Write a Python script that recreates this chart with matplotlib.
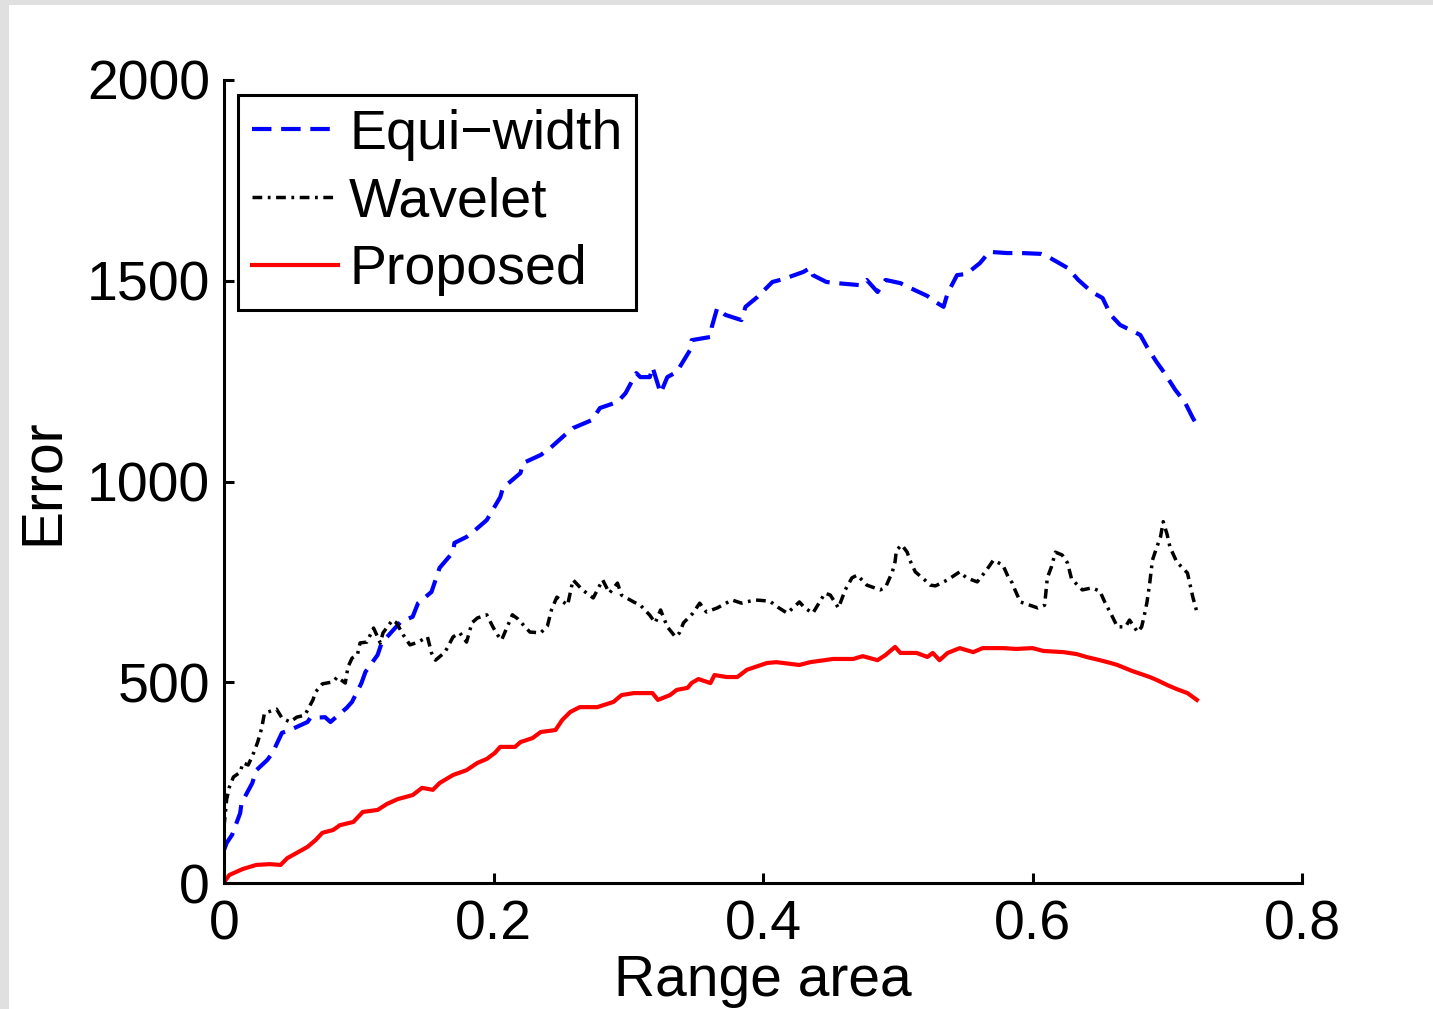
import matplotlib
matplotlib.use("Agg")
import matplotlib.pyplot as plt
from matplotlib.patches import Rectangle

plt.rcParams['font.family'] = ['Liberation Sans', 'DejaVu Sans']
plt.rcParams['lines.scale_dashes'] = False

# ---- data ----
equi_x = [0.000, 0.002, 0.006, 0.012, 0.013, 0.021, 0.024, 0.032, 0.036, 0.043, 0.049, 0.062, 0.064,
          0.075, 0.079, 0.091, 0.095, 0.102, 0.105, 0.114, 0.117, 0.131, 0.140, 0.144, 0.154, 0.160,
          0.170, 0.171, 0.180, 0.184, 0.195, 0.205, 0.207, 0.220, 0.222, 0.235, 0.242, 0.253, 0.259,
          0.273, 0.279, 0.292, 0.298, 0.306, 0.309, 0.316, 0.318, 0.324, 0.329, 0.336, 0.346, 0.347,
          0.361, 0.362, 0.366, 0.372, 0.384, 0.387, 0.396, 0.407, 0.415, 0.430, 0.435, 0.437, 0.447,
          0.455, 0.472, 0.477, 0.485, 0.491, 0.502, 0.508, 0.522, 0.529, 0.534, 0.537, 0.544, 0.551,
          0.561, 0.568, 0.581, 0.592, 0.606, 0.613, 0.626, 0.634, 0.644, 0.652, 0.658, 0.665, 0.680,
          0.685, 0.692, 0.698, 0.706, 0.713, 0.719, 0.723]
equi_y = [82, 100, 120, 174, 199, 249, 281, 306, 324, 374, 381, 401, 411,
          413, 401, 436, 451, 498, 526, 568, 598, 650, 663, 697, 725, 785,
          824, 847, 862, 872, 904, 961, 984, 1021, 1046, 1066, 1083, 1116, 1133,
          1153, 1183, 1198, 1220, 1270, 1260, 1260, 1285, 1220, 1260, 1273, 1328, 1352,
          1360, 1385, 1432, 1415, 1402, 1435, 1460, 1497, 1504, 1522, 1532, 1514, 1497,
          1494, 1489, 1502, 1472, 1502, 1494, 1484, 1462, 1445, 1435, 1469, 1514, 1517,
          1544, 1572, 1569, 1569, 1567, 1557, 1532, 1502, 1472, 1457, 1415, 1390, 1365,
          1335, 1298, 1270, 1228, 1198, 1158, 1136]

wave_x = [0.000, 0.002, 0.004, 0.007, 0.012, 0.014, 0.018, 0.022, 0.025, 0.028, 0.030, 0.039, 0.043,
          0.049, 0.054, 0.060, 0.066, 0.068, 0.073, 0.081, 0.084, 0.090, 0.092, 0.095, 0.099, 0.101,
          0.106, 0.111, 0.116, 0.118, 0.125, 0.128, 0.133, 0.138, 0.144, 0.151, 0.154, 0.157, 0.164,
          0.170, 0.175, 0.180, 0.184, 0.188, 0.195, 0.200, 0.203, 0.206, 0.214, 0.218, 0.227, 0.235,
          0.240, 0.243, 0.247, 0.255, 0.259, 0.266, 0.274, 0.281, 0.286, 0.292, 0.295, 0.304, 0.309,
          0.316, 0.320, 0.324, 0.329, 0.335, 0.338, 0.341, 0.348, 0.353, 0.358, 0.366, 0.377, 0.384,
          0.394, 0.405, 0.411, 0.418, 0.427, 0.431, 0.437, 0.442, 0.446, 0.450, 0.456, 0.461, 0.466,
          0.470, 0.477, 0.487, 0.491, 0.496, 0.498, 0.499, 0.503, 0.507, 0.509, 0.513, 0.520, 0.524,
          0.528, 0.537, 0.546, 0.551, 0.559, 0.566, 0.571, 0.578, 0.582, 0.585, 0.587, 0.591, 0.604,
          0.609, 0.611, 0.614, 0.617, 0.622, 0.626, 0.629, 0.637, 0.644, 0.650, 0.654, 0.658, 0.663,
          0.669, 0.672, 0.678, 0.681, 0.683, 0.685, 0.687, 0.689, 0.692, 0.695, 0.697, 0.700, 0.702,
          0.707, 0.715, 0.717, 0.719, 0.722]
wave_y = [140, 209, 239, 264, 276, 299, 294, 324, 351, 386, 423, 433, 411,
          401, 413, 418, 456, 476, 496, 501, 513, 498, 538, 560, 568, 598,
          600, 635, 598, 623, 655, 648, 618, 593, 600, 613, 573, 555, 575,
          613, 623, 600, 648, 660, 668, 635, 618, 605, 668, 658, 625, 623,
          640, 680, 712, 692, 755, 730, 710, 755, 722, 747, 717, 700, 692,
          667, 648, 680, 638, 613, 623, 648, 672, 697, 675, 685, 705, 697,
          705, 702, 687, 672, 700, 685, 672, 700, 722, 717, 685, 730, 760,
          767, 742, 730, 737, 775, 800, 829, 842, 824, 804, 775, 755, 742,
          740, 755, 775, 760, 750, 780, 804, 792, 762, 747, 730, 700, 685,
          692, 760, 787, 824, 817, 797, 757, 730, 735, 727, 697, 672, 638,
          638, 655, 625, 638, 667, 700, 747, 804, 834, 862, 900, 867, 837,
          800, 772, 742, 712, 675]

prop_x = [0.000, 0.004, 0.014, 0.024, 0.034, 0.042, 0.047, 0.054, 0.062, 0.068, 0.073, 0.081, 0.086,
          0.096, 0.103, 0.114, 0.121, 0.129, 0.140, 0.147, 0.155, 0.160, 0.170, 0.180, 0.188, 0.195,
          0.201, 0.205, 0.216, 0.220, 0.229, 0.235, 0.246, 0.251, 0.257, 0.264, 0.277, 0.289, 0.295,
          0.304, 0.318, 0.322, 0.331, 0.336, 0.344, 0.347, 0.352, 0.361, 0.364, 0.373, 0.381, 0.388,
          0.403, 0.410, 0.427, 0.435, 0.452, 0.467, 0.474, 0.485, 0.491, 0.498, 0.502, 0.514, 0.522,
          0.526, 0.531, 0.537, 0.546, 0.556, 0.563, 0.578, 0.588, 0.600, 0.608, 0.623, 0.633, 0.640,
          0.650, 0.658, 0.663, 0.674, 0.681, 0.687, 0.692, 0.700, 0.707, 0.715, 0.722]
prop_y = [2, 20, 35, 45, 47, 45, 62, 75, 90, 107, 125, 132, 144,
          152, 177, 182, 197, 209, 219, 237, 232, 249, 269, 281, 299, 309,
          324, 339, 339, 351, 361, 376, 381, 406, 426, 438, 438, 451, 468,
          473, 473, 456, 468, 481, 486, 498, 508, 498, 518, 513, 513, 531,
          548, 550, 543, 550, 558, 558, 565, 555, 568, 588, 573, 573, 563,
          573, 555, 573, 585, 575, 585, 585, 583, 585, 578, 575, 570, 563,
          555, 548, 543, 528, 520, 513, 506, 493, 483, 473, 456]

labels = ["Equi\u2212width", "Wavelet", "Proposed"]
xticks = [0, 0.2, 0.4, 0.6, 0.8]
xtick_labels = ["0", "0.2", "0.4", "0.6", "0.8"]
yticks = [0, 500, 1000, 1500, 2000]

# ---- figure ----
fig = plt.figure(figsize=(14.33, 10.09), dpi=100)
fig.patch.set_facecolor('white')
fig.patches.append(Rectangle((0, 0), 9 / 1433, 1, transform=fig.transFigure,
                             facecolor='#e0e0e0', edgecolor='none', zorder=0))
fig.patches.append(Rectangle((0, 1 - 5 / 1009), 1, 5 / 1009, transform=fig.transFigure,
                             facecolor='#e0e0e0', edgecolor='none', zorder=0))

ax = fig.add_axes([224 / 1433, 1 - 883 / 1009, (1302 - 224) / 1433, (883 - 80) / 1009])

ax.plot(equi_x, equi_y, color='#0000ff', lw=3.0, dashes=(14, 7), label=labels[0])
ax.plot(wave_x, wave_y, color='black', lw=2.5, dashes=(7, 4, 2, 4), label=labels[1])
ax.plot(prop_x, prop_y, color='#ff0000', lw=3.0, label=labels[2])

ax.set_xlim(0, 0.8)
ax.set_ylim(0, 2000)
ax.set_xticks(xticks)
ax.set_xticklabels(xtick_labels)
ax.set_yticks(yticks)

for s in ['top', 'right']:
    ax.spines[s].set_visible(False)
for s in ['left', 'bottom']:
    ax.spines[s].set_linewidth(2.2)

ax.tick_params(direction='in', length=7, width=2.2, labelsize=40, pad=10)
ax.tick_params(axis='x', pad=12)

ax.set_xlabel("Range area", fontsize=41, labelpad=2)
ax.set_ylabel("Error", fontsize=41, labelpad=12)

leg = ax.legend(loc='upper left', bbox_to_anchor=(14 / 1078, 1 - 15 / 803), borderaxespad=0,
                fontsize=40, frameon=True, fancybox=False, framealpha=1, handlelength=1.55,
                handletextpad=0.2, labelspacing=0.28, borderpad=0.25)
leg.get_frame().set_edgecolor('black')
leg.get_frame().set_linewidth(2.2)

fig.savefig("out.png", dpi=100)
